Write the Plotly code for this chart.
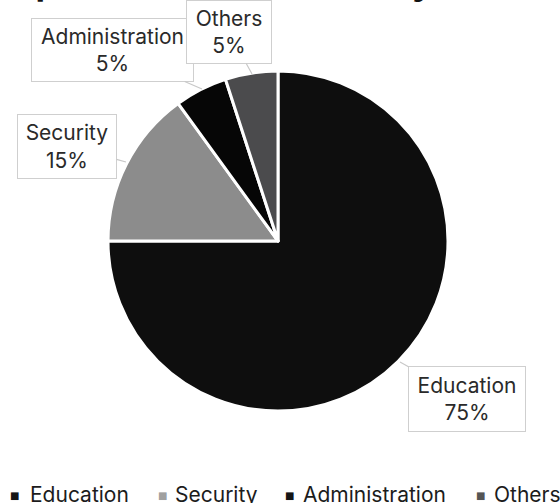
import plotly.graph_objects as go

title_text = "Expenditure Allocation by Sector"
categories = ["Education", "Security", "Administration", "Others"]
values = [75, 15, 5, 5]
colors = ["#0e0e0e", "#8c8c8c", "#060606", "#4b4b4d"]
legend_colors = ["#151515", "#a0a0a0", "#151515", "#555555"]

W, H = 560, 503
FONT = "Inter, Roboto, sans-serif"

def px(x):
    return x / W

def py(y):
    return 1 - y / H

fig = go.Figure()
fig.add_trace(go.Pie(
    labels=categories,
    values=values,
    sort=False,
    direction="clockwise",
    rotation=0,
    textinfo="none",
    hoverinfo="label+percent",
    showlegend=False,
    marker=dict(colors=colors, line=dict(color="white", width=3)),
    domain=dict(x=[px(108), px(448)], y=[py(411), py(71)]),
))

total = sum(values)
# callout box centres / sizes and pointer tips, in pixels
label_layout = {
    "Education": dict(cx=467, cy=399, w=118, h=66, tx=400, ty=362),
    "Security": dict(cx=67, cy=146, w=100, h=65, tx=126, ty=162),
    "Administration": dict(cx=112, cy=50, w=163, h=64, tx=202, ty=89),
    "Others": dict(cx=229, cy=32, w=86, h=64, tx=252, ty=74),
}

annotations = []
for cat, val in zip(categories, values):
    L = label_layout[cat]
    pct = round(100 * val / total)
    annotations.append(dict(
        x=px(L["tx"]), y=py(L["ty"]), xref="paper", yref="paper",
        ax=L["cx"] - L["tx"], ay=L["cy"] - L["ty"], axref="pixel", ayref="pixel",
        text=f"{cat}<br>{pct}%",
        showarrow=True, arrowhead=0, arrowwidth=1.2, arrowcolor="#c8c8c8",
        standoff=0, startstandoff=0,
        font=dict(family=FONT, size=21, color="#2a2a2a"),
        bgcolor="white", bordercolor="#cfcfcf", borderwidth=1, borderpad=1,
        width=L["w"] - 4, height=L["h"] - 4, align="center", valign="middle",
    ))

# title, mostly above the visible area
annotations.insert(0, dict(
    x=px(274), y=py(5), xref="paper", yref="paper",
    xanchor="center", yanchor="bottom", showarrow=False,
    text=f"<b>{title_text}</b>",
    font=dict(family=FONT, size=35, color="#111111"),
))

# legend row
legend_sq_x = [14.5, 162, 289, 480]
legend_txt_x = [28, 173, 301, 492]
legend_y = 494
for cat, col, sx, tx in zip(categories, legend_colors, legend_sq_x, legend_txt_x):
    annotations.append(dict(
        x=px(sx), y=py(legend_y + 1), xref="paper", yref="paper",
        xanchor="center", yanchor="middle", showarrow=False,
        text="■", font=dict(family="DejaVu Sans", size=10, color=col),
    ))
    annotations.append(dict(
        x=px(tx), y=py(legend_y), xref="paper", yref="paper",
        xanchor="left", yanchor="middle", showarrow=False,
        text=cat, font=dict(family=FONT, size=21, color="#1c1c1c"),
    ))

fig.update_layout(
    width=W, height=H,
    margin=dict(l=0, r=0, t=0, b=0),
    paper_bgcolor="white", plot_bgcolor="white",
    showlegend=False,
    annotations=annotations,
)

fig.write_html(
    "out.html",
    config={"displayModeBar": False},
    post_script="document.body.style.margin='0';document.body.style.overflow='hidden';",
)
